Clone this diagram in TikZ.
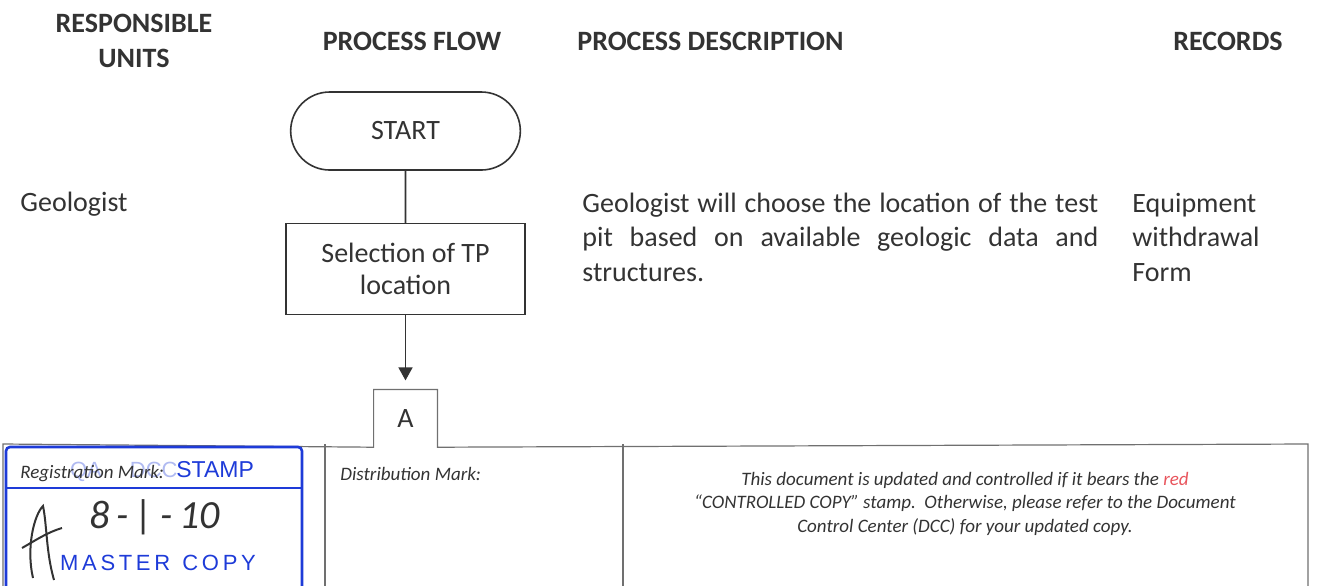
\documentclass[tikz,border=0pt]{standalone}
\usepackage{fontspec}
\setmainfont{Carlito}
\newfontfamily\stampfont{Liberation Sans}
\usetikzlibrary{arrows.meta,positioning,shapes.misc}
\definecolor{ink}{HTML}{333333}
\definecolor{rule}{HTML}{707070}
\definecolor{stampblue}{HTML}{1E3BD8}
\definecolor{redmark}{HTML}{E8545C}

\begin{document}
\begin{tikzpicture}[x=0.5pt, y=-0.5pt,
  hdr/.style={font=\fontsize{14}{17.5}\selectfont\bfseries, text=ink, inner sep=0pt},
  txt/.style={font=\fontsize{14}{17.25}\selectfont, text=ink, inner sep=0pt},
  term/.style={draw=ink, thick, rounded rectangle, minimum width=121.5pt, minimum height=39pt,
    font=\fontsize{14}{16}\selectfont, text=ink},
  proc/.style={draw=ink, thick, minimum width=119.5pt, minimum height=45.5pt, align=center,
    font=\fontsize{14}{16}\selectfont, text=ink},
  con/.style={minimum width=31.5pt, minimum height=28.5pt, inner sep=0pt,
    font=\fontsize{14}{16}\selectfont, text=ink},
  note/.style={font=\fontsize{9.5}{11.75}\selectfont\itshape, text=ink, inner sep=0pt},
  ar/.style={-{Triangle[length=6.5pt, width=7pt]}, draw=ink, thick}]

\useasboundingbox (0,0) rectangle (1321,585);
\clip (0,0) rectangle (1321,585);

% column headings (base = last line)
\node[hdr, anchor=base, align=center] (hunits) at (134,67) {RESPONSIBLE\\UNITS};
\node[hdr, anchor=base] (hflow) at (412,50) {PROCESS FLOW};
\node[hdr, anchor=base west] (hdesc) at (577,50) {PROCESS DESCRIPTION};
\node[hdr, anchor=base] (hrec) at (1228,50) {RECORDS};

% flow
\node[term] (start) at (405.5,131) {START};
\node[proc, below=26pt of start] (sel) {Selection of TP\\location};
\node[con, below=37pt of sel] (conA) {A};

\draw[ink, thick] (start) -- (sel);
\draw[ar, shorten >=4.5pt] (sel) -- (conA);

% row texts
\node[txt, anchor=base west] (unit) at (20,211) {Geologist};
\node[txt, anchor=base west, text width=258pt, align=justify] (desc) at (582,212)
  {Geologist will choose the location of the test\linebreak pit based on available geologic data and\linebreak structures.};
\node[txt, anchor=base west, align=left] (rec) at (1132,281) {Equipment\\withdrawal\\Form};

% footer table with the off-page tab
\draw[rule, line width=0.6pt] (3,600) -- (3,444) -- (conA.south west) -- (conA.north west)
  -- (conA.north east) -- (conA.south east) -- (1308,444) -- (1308,600);
\draw[rule, line width=0.6pt] (325,444) -- (325,600);
\draw[rule, line width=0.6pt] (623,444) -- (623,600);

% stamp
\draw[stampblue, line width=1.3pt, rounded corners=2pt] (302,600) -- (302,447) -- (6,447) -- (6,600);
\draw[stampblue, line width=1.3pt] (6,488) -- (302,488);
\node[anchor=base east, inner sep=0pt, text=stampblue!35, font=\stampfont\fontsize{11}{12}\selectfont]
  (stamphead) at (178,477) {QA \quad DCC};
\node[anchor=base west, inner sep=0pt, text=stampblue, font=\stampfont\fontsize{11.5}{12}\selectfont]
  (stampword) at (176,477) {STAMP};
\node[anchor=base, inner sep=0pt, text=stampblue, font=\stampfont\fontsize{11}{12}\selectfont]
  (master) at (158,570) {M\,A\,S\,T\,E\,R\; C\,O\,P\,Y};
\node[anchor=base, inner sep=0pt, text=ink, font=\fontsize{20}{20}\selectfont\itshape]
  (date) at (155,528) {8\,-\,|\,-\,10};
\draw[ink, line width=1pt] (33,578) .. controls (26,548) and (34,515) .. (43,506)
  .. controls (47,525) and (46,552) .. (54,580);
\draw[ink, line width=1pt] (22,548) .. controls (36,540) and (48,532) .. (62,528);

\node[note, anchor=base west] (reg) at (20,478) {Registration Mark:};
\node[note, anchor=base west] (dist) at (340,480) {Distribution Mark:};
\node[note, anchor=base, align=center] (disc) at (965,532)
  {This document is updated and controlled if it bears the \textcolor{redmark}{red}\\
   ``CONTROLLED COPY'' stamp.\ \ Otherwise, please refer to the Document\\
   Control Center (DCC) for your updated copy.};
\end{tikzpicture}
\end{document}
